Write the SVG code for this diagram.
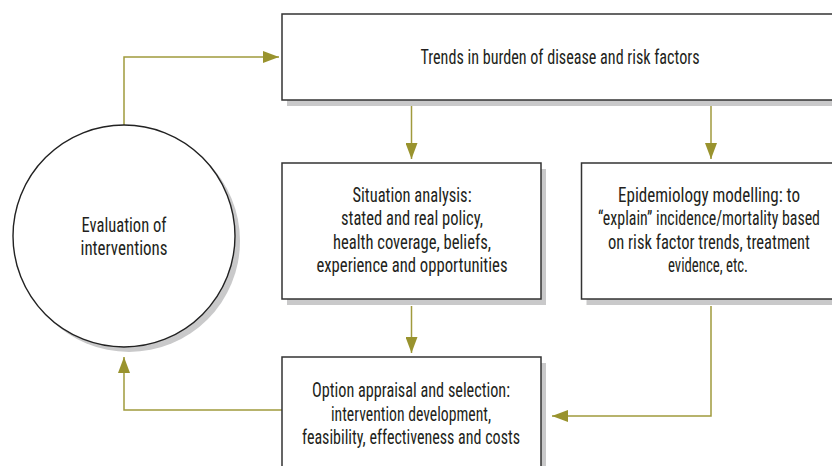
<svg xmlns="http://www.w3.org/2000/svg" width="832" height="466" viewBox="0 0 832 466">
<style>
.box{fill:#fff;stroke:#333;stroke-width:1.5}
.sh{fill:#c9c9ca}
.t{font-family:"Liberation Sans Narrow","Roboto Condensed","Liberation Sans",Arial,sans-serif;font-size:19.5px;fill:#231f20;text-anchor:middle}
.c{fill:none;stroke:#a09a3c;stroke-width:1.5}
</style>
<defs>
<marker id="ah" markerUnits="userSpaceOnUse" markerWidth="16" markerHeight="12" refX="16" refY="6" orient="auto">
<path d="M0,0 L16,6 L0,12 z" fill="#99932e"/>
</marker>
</defs>
<rect width="832" height="466" fill="#fff"/>
<g id="connectors">
<polyline class="c" points="124,125 124,57 279,57" marker-end="url(#ah)"/>
<polyline class="c" points="411.5,106 411.5,159" marker-end="url(#ah)"/>
<polyline class="c" points="711,106 711,159" marker-end="url(#ah)"/>
<polyline class="c" points="411.5,306 411.5,353" marker-end="url(#ah)"/>
<polyline class="c" points="711,306 711,416 552,416" marker-end="url(#ah)"/>
<polyline class="c" points="282,410 124,410 124,357" marker-end="url(#ah)"/>
</g>
<g id="evaluation">
<circle class="sh" cx="129" cy="241" r="111"/>
<circle cx="124" cy="236" r="111" fill="#fff" stroke="#222" stroke-width="1.4"/>
<text class="t" x="124" y="232" textLength="85" lengthAdjust="spacingAndGlyphs">Evaluation of</text>
<text class="t" x="124" y="255" textLength="87" lengthAdjust="spacingAndGlyphs">interventions</text>
</g>
<g id="trends">
<rect class="sh" x="287" y="20" width="600" height="86"/>
<rect class="box" x="282" y="14" width="600" height="86"/>
<text class="t" x="560" y="64" textLength="279" lengthAdjust="spacingAndGlyphs">Trends in burden of disease and risk factors</text>
</g>
<g id="situation">
<rect class="sh" x="287" y="169" width="259" height="136"/>
<rect class="box" x="282" y="163" width="259" height="136"/>
<text class="t" x="412" y="201.5" textLength="119" lengthAdjust="spacingAndGlyphs">Situation analysis:</text>
<text class="t" x="412" y="225" textLength="142" lengthAdjust="spacingAndGlyphs">stated and real policy,</text>
<text class="t" x="412" y="248.5" textLength="158" lengthAdjust="spacingAndGlyphs">health coverage, beliefs,</text>
<text class="t" x="412" y="272" textLength="191" lengthAdjust="spacingAndGlyphs">experience and opportunities</text>
</g>
<g id="epidemiology">
<rect class="sh" x="586.5" y="169" width="300" height="136"/>
<rect class="box" x="581.5" y="163" width="300" height="136"/>
<text class="t" x="709" y="201.5" textLength="182" lengthAdjust="spacingAndGlyphs">Epidemiology modelling: to</text>
<text class="t" x="709" y="225" textLength="222" lengthAdjust="spacingAndGlyphs">“explain” incidence/mortality based</text>
<text class="t" x="709" y="248.5" textLength="202" lengthAdjust="spacingAndGlyphs">on risk factor trends, treatment</text>
<text class="t" x="708" y="272" textLength="80" lengthAdjust="spacingAndGlyphs">evidence, etc.</text>
</g>
<g id="option">
<rect class="sh" x="287" y="363" width="259" height="150"/>
<rect class="box" x="282" y="357" width="259" height="150"/>
<text class="t" x="411" y="397" textLength="198" lengthAdjust="spacingAndGlyphs">Option appraisal and selection:</text>
<text class="t" x="411" y="420.5" textLength="160" lengthAdjust="spacingAndGlyphs">intervention development,</text>
<text class="t" x="411" y="444" textLength="218" lengthAdjust="spacingAndGlyphs">feasibility, effectiveness and costs</text>
</g>
</svg>
